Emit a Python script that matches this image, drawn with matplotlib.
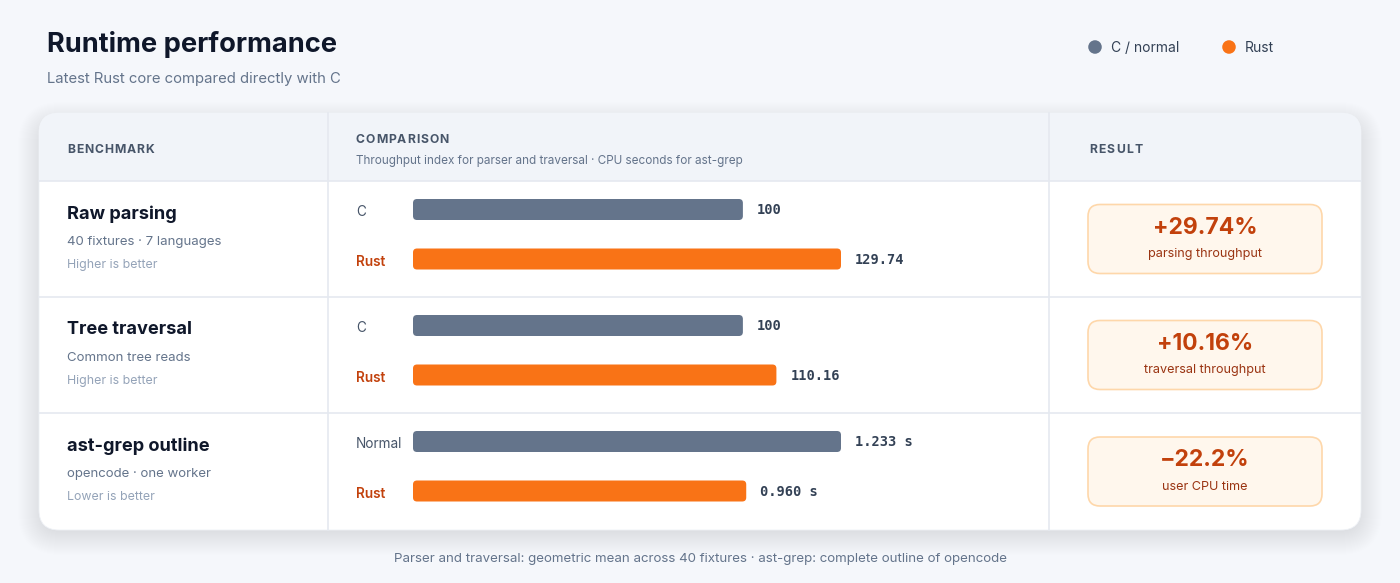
import matplotlib
matplotlib.use("Agg")
import matplotlib.pyplot as plt
from matplotlib.patches import FancyBboxPatch, Rectangle
import matplotlib.transforms as mtransforms

# ---------------- data ----------------
benchmarks = ["Raw parsing", "Tree traversal", "ast-grep outline"]
details = ["40 fixtures · 7 languages", "Common tree reads", "opencode · one worker"]
directions = ["Higher is better", "Higher is better", "Lower is better"]
baseline_labels = ["C", "C", "Normal"]
baseline_values = [100, 100, 1.233]
rust_values = [129.74, 110.16, 0.960]
baseline_text = ["100", "100", "1.233 s"]
rust_text = ["129.74", "110.16", "0.960 s"]
scale_groups = ["index", "index", "cpu"]
result_values = ["+29.74%", "+10.16%", "\u221222.2%"]
result_captions = ["parsing throughput", "traversal throughput", "user CPU time"]
legend_labels = ["C / normal", "Rust"]

title = "Runtime performance"
subtitle = "Latest Rust core compared directly with C"
col_headers = ["BENCHMARK", "COMPARISON", "RESULT"]
comparison_note = "Throughput index for parser and traversal \u00b7 CPU seconds for ast-grep"
footer = ("Parser and traversal: geometric mean across 40 fixtures \u00b7 "
          "ast-grep: complete outline of opencode")

# ---------------- style ----------------
BG = "#f5f7fb"
CARD = "#ffffff"
HEAD = "#f1f4f9"
GRID = "#e5e9f0"
GRAY = "#64748b"
ORANGE = "#f97316"
RUST_TXT = "#c2410c"
DARK = "#0f172a"
SLATE = "#475569"
LIGHT = "#94a3b8"
FONT = ["Inter", "DejaVu Sans"]
MONO = ["DejaVu Sans Mono"]

W, H = 1400, 583
fig = plt.figure(figsize=(W / 100, H / 100), dpi=100, facecolor=BG)
bg = fig.add_axes([0, 0, 1, 1])
bg.set_xlim(0, W)
bg.set_ylim(H, 0)
bg.axis("off")
bg.set_facecolor(BG)

# layout (pixels)
card_x0, card_x1, card_y0, card_y1 = 39, 1361, 113, 530
head_y1 = 181
row_edges = [181, 297, 413, 530]
col1, col2 = 328, 1049
bar_x0, bar_w = 413, 428

# soft shadow
for i in range(24):
    sh = FancyBboxPatch((card_x0 - i + 2, card_y0 - i + 12), card_x1 - card_x0 + 2 * i - 4,
                        card_y1 - card_y0 + 2 * i - 10,
                        boxstyle=f"round,pad=0,rounding_size={20 + i}",
                        facecolor="#1e293b", edgecolor="none", alpha=0.0035, zorder=1)
    bg.add_patch(sh)

card = FancyBboxPatch((card_x0, card_y0), card_x1 - card_x0, card_y1 - card_y0,
                      boxstyle="round,pad=0,rounding_size=20",
                      facecolor=CARD, edgecolor="#eef1f6", linewidth=0.6, zorder=2)
bg.add_patch(card)
head = Rectangle((card_x0, card_y0), card_x1 - card_x0, head_y1 - card_y0,
                 facecolor=HEAD, edgecolor="none", zorder=3)
bg.add_patch(head)
head.set_clip_path(card)

# grid lines
for y in row_edges[:-1]:
    bg.plot([card_x0, card_x1], [y, y], color=GRID, lw=1.2, zorder=4)
for x in (col1, col2):
    bg.plot([x, x], [card_y0, card_y1], color=GRID, lw=1.2, zorder=4)

fig.canvas.draw()
renderer = fig.canvas.get_renderer()


def spaced_text(x, y, s, spacing, **kw):
    """Draw caps with letter spacing (pixels)."""
    for ch in s:
        t = bg.text(x, y, ch, **kw)
        bb = t.get_window_extent(renderer=renderer)
        x += bb.width + spacing


# title & legend
bg.text(47, 45, title, fontsize=19.6, fontweight="bold", color=DARK,
        family=FONT, va="center", ha="left", zorder=5)
bg.text(47, 79, subtitle, fontsize=10.7, color=GRAY, family=FONT,
        va="center", ha="left", zorder=5)
for (cx, lab, col) in [(1095, legend_labels[0], GRAY), (1229, legend_labels[1], ORANGE)]:
    bg.scatter([cx], [47], s=95, color=col, zorder=5, edgecolors="none")
    bg.text(cx + 16, 48, lab, fontsize=10.0, color="#334155", family=FONT,
            va="center", ha="left", zorder=5)

# headers
hkw = dict(fontsize=8.8, fontweight="bold", color=SLATE, family=FONT,
           va="center", ha="left", zorder=5)
spaced_text(67, 150, col_headers[0], 0.9, **hkw)
spaced_text(356, 140, col_headers[1], 0.9, **hkw)
spaced_text(1089, 150, col_headers[2], 1.3, **hkw)
bg.text(356, 161, comparison_note, fontsize=8.45, color=GRAY, family=FONT,
        va="center", ha="left", zorder=5)

# scales per group
group_max = {}
for g, b, r in zip(scale_groups, baseline_values, rust_values):
    group_max[g] = max(group_max.get(g, 0), b, r)

for i in range(len(benchmarks)):
    top, bot = row_edges[i], row_edges[i + 1]
    rh = bot - top
    # benchmark column
    bg.text(67, top + 33, benchmarks[i], fontsize=13.1, fontweight="bold", color=DARK,
            family=FONT, va="center", ha="left", zorder=5)
    bg.text(67, top + 61, details[i], fontsize=9.5, color=GRAY, family=FONT,
            va="center", ha="left", zorder=5)
    bg.text(67, top + 84, directions[i], fontsize=8.9, color=LIGHT, family=FONT,
            va="center", ha="left", zorder=5)

    # bars axes
    ax = fig.add_axes([bar_x0 / W, 1 - bot / H, bar_w / W, rh / H])
    ax.set_zorder(6)
    ax.patch.set_alpha(0)
    ax.axis("off")
    c0, c1 = 28.5, 78.0
    unit = c1 - c0
    ax.set_xlim(0, group_max[scale_groups[i]])
    ax.set_ylim(1 + (rh - c1) / unit, -c0 / unit)
    bh = 21 / unit
    bars = ax.barh([0, 1], [baseline_values[i], rust_values[i]], height=bh,
                   color=[GRAY, ORANGE])
    xunit = group_max[scale_groups[i]] / bar_w
    for b in bars:
        x, y = b.get_x(), b.get_y()
        w, h = b.get_width(), b.get_height()
        b.set_visible(False)
        rp = FancyBboxPatch((x, y), w, h,
                            boxstyle=f"round,pad=0,rounding_size={4 * xunit}",
                            mutation_aspect=(1 / unit) / xunit,
                            facecolor=b.get_facecolor(), edgecolor="none")
        ax.add_patch(rp)
    for yy, v, s in [(0, baseline_values[i], baseline_text[i]),
                     (1, rust_values[i], rust_text[i])]:
        ax.annotate(s, (v, yy), xytext=(14, -1), textcoords="offset pixels",
                    fontsize=9.8, fontweight="bold", color="#334155", family=MONO,
                    va="center", ha="left", annotation_clip=False)
    tr = mtransforms.blended_transform_factory(bg.transData, ax.transData)
    ax.annotate(baseline_labels[i], (356, 0), xycoords=tr, xytext=(0, -3),
                textcoords="offset pixels", fontsize=9.8, color=SLATE,
                family=FONT, va="center", ha="left", annotation_clip=False)
    ax.annotate("Rust", (356, 1), xycoords=tr, xytext=(0, -3),
                textcoords="offset pixels", fontsize=9.8, fontweight="semibold",
                color=RUST_TXT, family=FONT, va="center", ha="left",
                annotation_clip=False)

    # result box
    cy = (top + bot) / 2
    box = FancyBboxPatch((1088, cy - 34.5), 234, 69,
                         boxstyle="round,pad=0,rounding_size=12",
                         facecolor="#fff7ed", edgecolor="#fed7aa", linewidth=1.2, zorder=5)
    bg.add_patch(box)
    bg.text(1205, cy - 11, result_values[i], fontsize=16.5, fontweight="bold",
            color=RUST_TXT, family=FONT, va="center", ha="center", zorder=6)
    bg.text(1205, cy + 15.5, result_captions[i], fontsize=9.1, color="#9a3412",
            family=FONT, va="center", ha="center", zorder=6)

bg.text(700, 559, footer, fontsize=9.6, color=GRAY, family=FONT,
        va="center", ha="center", zorder=5)

fig.savefig("out.png", dpi=100, facecolor=BG)
